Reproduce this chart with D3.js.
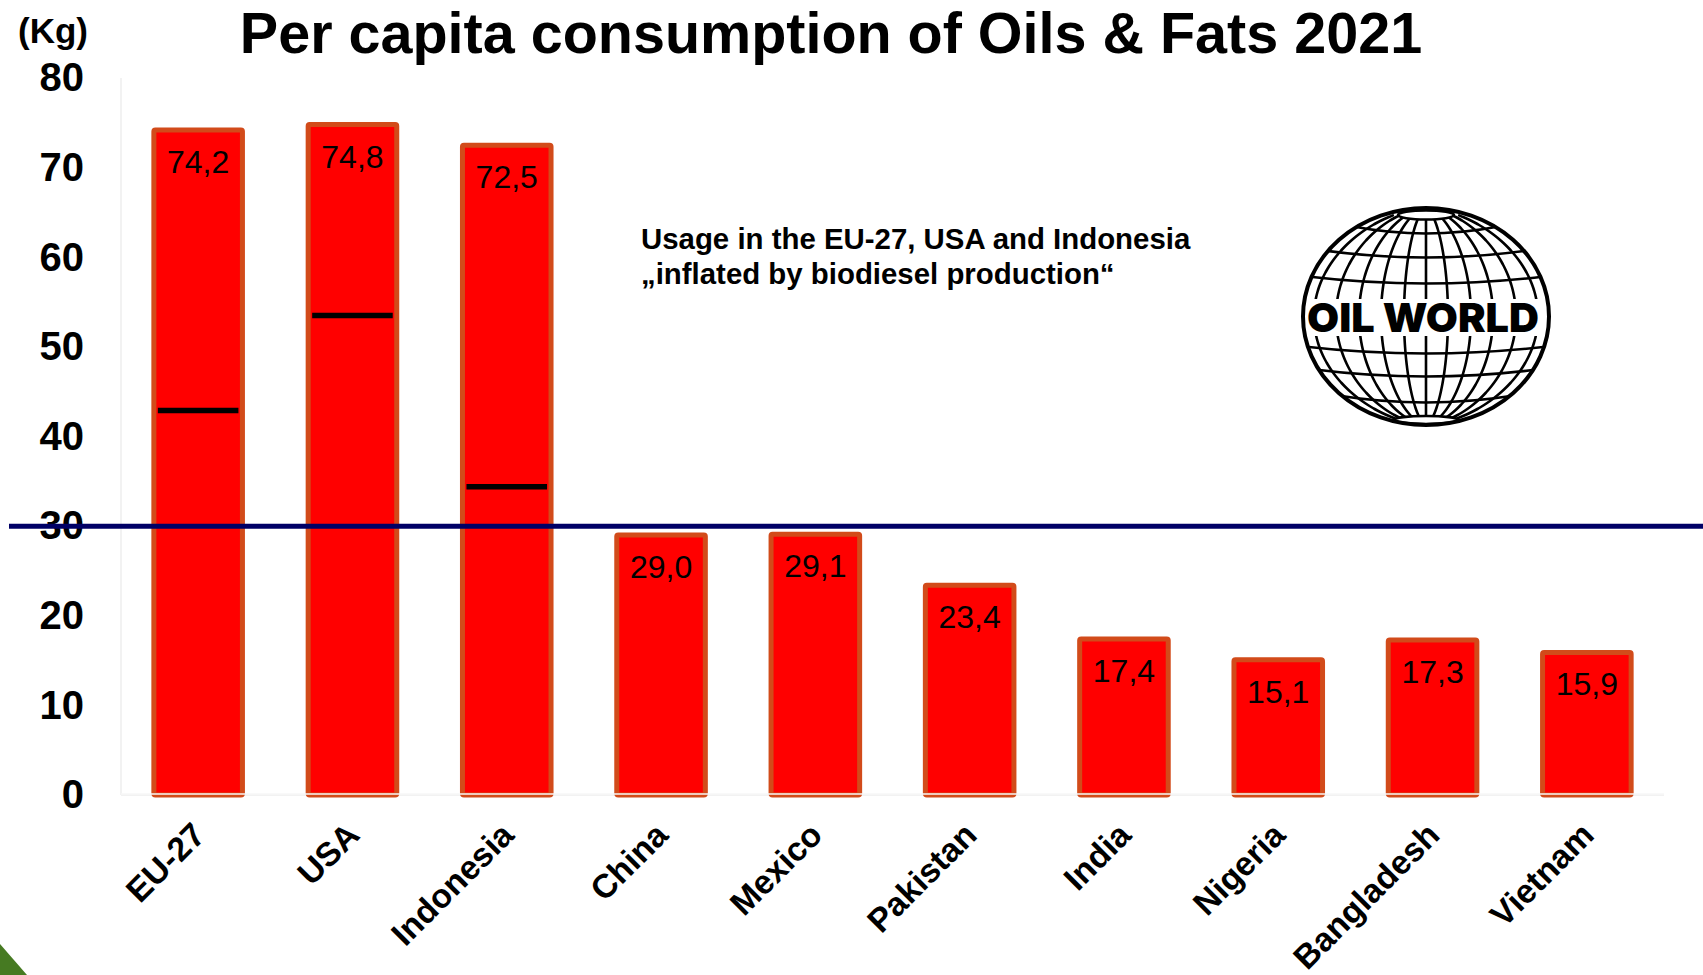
<!DOCTYPE html>
<html><head><meta charset="utf-8">
<script src="https://cdn.jsdelivr.net/npm/d3@7"></script>
<style>body{margin:0;background:#fff}svg{display:block}</style>
</head><body>
<svg id="chart" width="1703" height="975"></svg>
<script>
// Per capita consumption of oils & fats, 2021 (kg)
const countries = ["EU-27","USA","Indonesia","China","Mexico","Pakistan","India","Nigeria","Bangladesh","Vietnam"];
const consumption = [74.2,74.8,72.5,29.0,29.1,23.4,17.4,15.1,17.3,15.9];
// usage level without biodiesel, shown as a marker inside the bar
const markerCountries = ["EU-27","USA","Indonesia"];
const markerValues = [42.9,53.5,34.4];
const referenceLevel = 30;
const yTicks = [0,10,20,30,40,50,60,70,80];
const titleText = "Per capita consumption of Oils & Fats 2021";
const unitText = "(Kg)";
const noteLines = ["Usage in the EU-27, USA and Indonesia", "\u201Einflated by biodiesel production\u201C"];
const logoText = "OIL WORLD";

const svg = d3.select("#chart");
const font = "'Liberation Sans', Arial, sans-serif";
const fmt = d3.formatLocale({decimal: ",", thousands: ".", grouping: [3], currency: ["", ""]}).format(".1f");

const x = d3.scaleBand().domain(countries).range([121, 1664]).paddingInner(0.426).paddingOuter(0.213);
const y = d3.scaleLinear().domain([0, 80]).range([795, 78]);

// decorative corner
svg.append("path").attr("d", "M0,944 L27,975 L0,975 Z").attr("fill", "#467a22");

// faint plot frame
svg.append("line").attr("x1", 121).attr("x2", 121).attr("y1", y(80)).attr("y2", y(0))
  .attr("stroke", "#eeeeee").attr("stroke-width", 1.5);
svg.append("line").attr("x1", 121).attr("x2", 1664).attr("y1", y(0)).attr("y2", y(0))
  .attr("stroke", "#eeeeee").attr("stroke-width", 1.5);

// bars
svg.append("g").selectAll("rect").data(countries).join("rect")
  .attr("x", d => x(d)).attr("width", x.bandwidth())
  .attr("y", (d, i) => y(consumption[i]))
  .attr("height", (d, i) => y(0) - y(consumption[i]))
  .attr("fill", "#ff0000").attr("stroke", "#d24b1a").attr("stroke-width", 5)
  .attr("rx", 1.5);

// light base line across the bar feet
svg.append("line").attr("x1", 121).attr("x2", 1664).attr("y1", y(0) - 1).attr("y2", y(0) - 1)
  .attr("stroke", "#f7f7f7").attr("stroke-width", 1.6);

// markers for usage without biodiesel
svg.append("g").selectAll("line").data(markerCountries).join("line")
  .attr("x1", d => x(d) + 4).attr("x2", d => x(d) + x.bandwidth() - 4)
  .attr("y1", (d, i) => y(markerValues[i])).attr("y2", (d, i) => y(markerValues[i]))
  .attr("stroke", "#000").attr("stroke-width", 5.5);

// value labels
svg.append("g").selectAll("text").data(countries).join("text")
  .attr("x", d => x(d) + x.bandwidth() / 2)
  .attr("y", (d, i) => y(consumption[i]) + 43)
  .attr("text-anchor", "middle")
  .attr("font-family", font).attr("font-size", 32).attr("fill", "#000")
  .text((d, i) => fmt(consumption[i]));

// y axis
const yAxis = svg.append("g").attr("transform", "translate(121,0)")
  .call(d3.axisLeft(y).tickValues(yTicks).tickSize(0).tickPadding(37).tickFormat(d3.format("d")));
yAxis.select(".domain").remove();
yAxis.selectAll("text").attr("font-family", font).attr("font-size", 40).attr("font-weight", "bold").attr("fill", "#000");

// x axis
const xAxis = svg.append("g").attr("transform", `translate(0,${y(0)})`)
  .call(d3.axisBottom(x).tickSize(0));
xAxis.select(".domain").remove();
xAxis.selectAll("text")
  .attr("y", 0).attr("dy", 0)
  .attr("text-anchor", "end")
  .attr("transform", "translate(9,42) rotate(-45)")
  .attr("font-family", font).attr("font-size", 33.5).attr("font-weight", "bold").attr("fill", "#000");

// reference level
svg.append("line").attr("x1", 9).attr("x2", 1703)
  .attr("y1", y(referenceLevel)).attr("y2", y(referenceLevel))
  .attr("stroke", "#000066").attr("stroke-width", 5);

// title & unit
svg.append("text").attr("x", 831).attr("y", 53).attr("text-anchor", "middle")
  .attr("font-family", font).attr("font-size", 57.5).attr("font-weight", "bold").text(titleText);
svg.append("text").attr("x", 53).attr("y", 43).attr("text-anchor", "middle")
  .attr("font-family", font).attr("font-size", 35).attr("font-weight", "bold").text(unitText);

// note
svg.append("g").selectAll("text").data(noteLines).join("text")
  .attr("x", 641).attr("y", (d, i) => 249 + i * 35)
  .attr("font-family", font).attr("font-size", 29.4).attr("font-weight", "bold").text(d => d);

// globe logo
const cx = 1426, cy = 316.5, rx = 123, ry = 108.5;
const logo = svg.append("g");
svg.append("defs").append("clipPath").attr("id", "globeClip")
  .append("ellipse").attr("cx", cx).attr("cy", cy).attr("rx", rx - 1).attr("ry", ry - 1);
const grid = logo.append("g").attr("clip-path", "url(#globeClip)")
  .attr("fill", "none").attr("stroke", "#000").attr("stroke-width", 2.6);
const meridianOffsets = [-112, -90, -67, -45, -22, 0, 22, 45, 67, 90, 112];
const lineGen = d3.line().curve(d3.curveBasis);
meridianOffsets.forEach(a => {
  const pts = [];
  for (let yy = cy - ry + 7; yy <= cy + ry - 5; yy += 2) {
    const t = 1 - ((yy - cy) / ry) ** 2;
    pts.push([cx + a * Math.pow(Math.max(t, 0), 0.6), yy]);
  }
  grid.append("path").attr("d", lineGen(pts));
});
const parallelOffsets = [-83, -59, -33, 37, 60, 86];
parallelOffsets.forEach(dy => {
  const s = 7;
  const ye = cy + dy - s;
  const w = rx * Math.sqrt(Math.max(0, 1 - ((ye - cy) / ry) ** 2));
  grid.append("path").attr("d", `M${cx - w - 4},${ye} Q${cx},${cy + dy + s} ${cx + w + 4},${ye}`);
});
grid.append("ellipse").attr("cx", cx).attr("cy", cy - ry + 7).attr("rx", 28).attr("ry", 4.5)
  .attr("fill", "#fff");
grid.append("ellipse").attr("cx", cx).attr("cy", cy + ry - 5).attr("rx", 32).attr("ry", 4)
  .attr("fill", "#fff");
logo.append("rect").attr("x", cx - 119).attr("y", 299).attr("width", 238).attr("height", 37).attr("fill", "#fff");
logo.append("ellipse").attr("cx", cx).attr("cy", cy).attr("rx", rx).attr("ry", ry)
  .attr("fill", "none").attr("stroke", "#000").attr("stroke-width", 4);
logo.append("text").attr("x", cx - 3).attr("y", 332).attr("text-anchor", "middle")
  .attr("font-family", "Inter, 'DejaVu Sans', sans-serif").attr("font-weight", 900)
  .attr("font-size", 40).attr("textLength", 232).attr("lengthAdjust", "spacingAndGlyphs")
  .text(logoText);
</script>
</body></html>
